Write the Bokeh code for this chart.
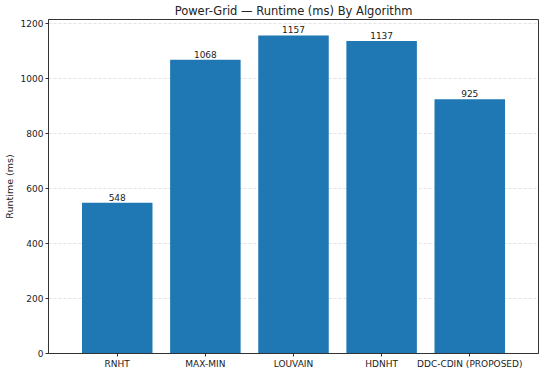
from bokeh.plotting import figure
from bokeh.models import ColumnDataSource, Range1d, FactorRange, LabelSet
from bokeh.core.properties import value
from bokeh.embed import file_html
from bokeh.resources import INLINE

algorithms = ["RNHT", "MAX-MIN", "LOUVAIN", "HDNHT", "DDC-CDIN (PROPOSED)"]
runtime_ms = [548, 1068, 1157, 1137, 925]
y_ticks = [0, 200, 400, 600, 800, 1000, 1200]

FONT = "DejaVu Sans"

src = ColumnDataSource(dict(alg=algorithms, val=runtime_ms,
                            lab=[str(v) for v in runtime_ms]))

p = figure(x_range=FactorRange(*algorithms, range_padding=0.28, range_padding_units="absolute"),
           y_range=Range1d(0, max(runtime_ms) * 1.05),
           frame_width=490, frame_height=334,
           min_border_left=0, min_border_right=2, min_border_top=0, min_border_bottom=0,
           output_backend="svg", toolbar_location=None,
           title="Power-Grid \u2014 Runtime (ms) By Algorithm")

p.vbar(x="alg", top="val", width=0.8, source=src, color="#1f77b4", line_color=None)

labels = LabelSet(x="alg", y="val", text="lab", source=src, text_align="center",
                  text_baseline="bottom", y_offset=2, text_font=value(FONT),
                  text_font_size="9px", text_color="#222222")
p.add_layout(labels)

p.title.text_font = FONT
p.title.text_font_size = "11.5px"
p.title.text_font_style = "normal"
p.title.align = "center"
p.title.standoff = 3
p.title.text_color = "#222222"

p.outline_line_color = "#333333"
p.outline_line_width = 1
p.outline_line_alpha = 1

for ax in (p.xaxis[0], p.yaxis[0]):
    ax.axis_line_color = "#333333"
    ax.major_tick_line_color = "#333333"
    ax.major_tick_out = 3
    ax.major_tick_in = 0
    ax.minor_tick_line_color = None
    ax.major_label_text_font = FONT
    ax.major_label_text_font_size = "9px"
    ax.major_label_text_color = "#222222"
    ax.major_label_standoff = 2

p.yaxis.ticker = y_ticks
p.yaxis.axis_label = "Runtime (ms)"
p.yaxis.axis_label_text_font = FONT
p.yaxis.axis_label_text_font_size = "9.5px"
p.yaxis.axis_label_text_font_style = "normal"
p.yaxis.axis_label_text_color = "#222222"
p.yaxis.axis_label_standoff = 3

p.xgrid.grid_line_color = None
p.ygrid.grid_line_color = "#d0d0d0"
p.ygrid.grid_line_dash = "3 2"
p.ygrid.grid_line_alpha = 0.6

p.background_fill_color = "white"
p.border_fill_color = "white"

open("out.html", "w").write(file_html(p, INLINE))
